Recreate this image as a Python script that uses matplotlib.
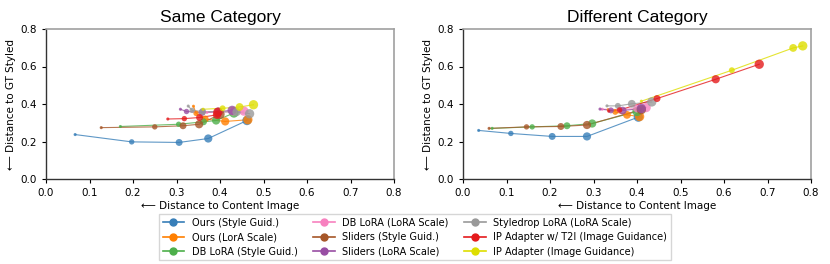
import numpy as np
import matplotlib
matplotlib.use('Agg')
import matplotlib.pyplot as plt
from matplotlib.lines import Line2D

names = ['Ours (Style Guid.)', 'Ours (LorA Scale)', 'DB LoRA (Style Guid.)',
         'DB LoRA (LoRA Scale)', 'Sliders (Style Guid.)', 'Sliders (LoRA Scale)',
         'Styledrop LoRA (LoRA Scale)', 'IP Adapter w/ T2I (Image Guidance)',
         'IP Adapter (Image Guidance)']
colors = ['#377eb8', '#ff7f00', '#4daf4a', '#f781bf', '#a65628',
          '#984ea3', '#999999', '#e41a1c', '#dede00']

# Same Category
same_x = [
    [0.067, 0.197, 0.306, 0.373, 0.462],
    [0.339, 0.345, 0.366, 0.412, 0.464],
    [0.171, 0.305, 0.362, 0.391, 0.432],
    [0.370, 0.400, 0.430, 0.455],
    [0.127, 0.250, 0.315, 0.352, 0.400],
    [0.309, 0.323, 0.359, 0.396, 0.428],
    [0.327, 0.336, 0.360, 0.438, 0.468],
    [0.280, 0.318, 0.353, 0.393, 0.395],
    [0.361, 0.406, 0.445, 0.477],
]
same_y = [
    [0.237, 0.198, 0.195, 0.216, 0.312],
    [0.388, 0.350, 0.320, 0.307, 0.316],
    [0.280, 0.292, 0.305, 0.312, 0.352],
    [0.355, 0.356, 0.360, 0.362],
    [0.274, 0.278, 0.284, 0.292, 0.345],
    [0.372, 0.360, 0.355, 0.360, 0.366],
    [0.389, 0.366, 0.360, 0.357, 0.348],
    [0.320, 0.322, 0.328, 0.342, 0.356],
    [0.372, 0.377, 0.384, 0.396],
]

# Different Category
diff_x = [
    [0.036, 0.110, 0.205, 0.285, 0.403],
    [0.334, 0.350, 0.377, 0.406],
    [0.067, 0.159, 0.239, 0.297, 0.400],
    [0.320, 0.360, 0.400, 0.421],
    [0.060, 0.146, 0.225, 0.285, 0.410],
    [0.315, 0.340, 0.367, 0.410],
    [0.331, 0.356, 0.388, 0.434],
    [0.335, 0.360, 0.446, 0.581, 0.681],
    [0.410, 0.618, 0.759, 0.781],
]
diff_y = [
    [0.259, 0.243, 0.227, 0.227, 0.330],
    [0.370, 0.358, 0.342, 0.333],
    [0.270, 0.278, 0.284, 0.296, 0.360],
    [0.372, 0.370, 0.376, 0.381],
    [0.270, 0.278, 0.280, 0.288, 0.370],
    [0.373, 0.366, 0.365, 0.376],
    [0.390, 0.390, 0.401, 0.411],
    [0.362, 0.368, 0.429, 0.532, 0.612],
    [0.415, 0.580, 0.699, 0.710],
]

ticks = [0.0, 0.1, 0.2, 0.3, 0.4, 0.5, 0.6, 0.7, 0.8]

fig = plt.figure(figsize=(8.3, 2.64), dpi=100)
ax1 = fig.add_axes([46 / 830, 1 - 179 / 264, 348 / 830, 150 / 264])
ax2 = fig.add_axes([463 / 830, 1 - 179 / 264, 348 / 830, 150 / 264])


def draw(ax, xs, ys, title):
    for x, y, c in zip(xs, ys, colors):
        ax.plot(x, y, color=c, linewidth=0.8, alpha=0.8, zorder=2)
        sizes = np.linspace(5, 45, len(x))
        ax.scatter(x, y, s=sizes, color=c, alpha=0.8, edgecolors='none', zorder=3)
    ax.set_xlim(0, 0.8)
    ax.set_ylim(0, 0.8)
    ax.set_xticks(ticks)
    ax.set_yticks([0.0, 0.2, 0.4, 0.6, 0.8])
    ax.tick_params(labelsize=7.5, length=3, width=0.8)
    ax.set_xlabel('\u27f5 Distance to Content Image', fontsize=7.5, labelpad=2)
    ax.set_ylabel('\u27f5 Distance to GT Styled', fontsize=7.5, labelpad=3)
    ax.set_title(title, fontsize=12.5, family='Liberation Sans', pad=5)
    for s in ['top', 'right']:
        ax.spines[s].set_color('#a0a0a0')
        ax.spines[s].set_linewidth(1.2)
    for s in ['left', 'bottom']:
        ax.spines[s].set_color('#333333')
        ax.spines[s].set_linewidth(1.0)


draw(ax1, same_x, same_y, 'Same Category')
draw(ax2, diff_x, diff_y, 'Different Category')

handles = [Line2D([0], [0], color=c, marker='o', markersize=5, linewidth=1.2)
           for c in colors]
fig.legend(handles, names, loc='lower center', bbox_to_anchor=(0.5, -0.005),
           ncol=3, fontsize=7, frameon=True, handlelength=2.2,
           columnspacing=1.6, labelspacing=0.45, borderpad=0.4,
           fancybox=False, edgecolor='#cccccc')

fig.savefig('out.png', dpi=100, facecolor='white')
